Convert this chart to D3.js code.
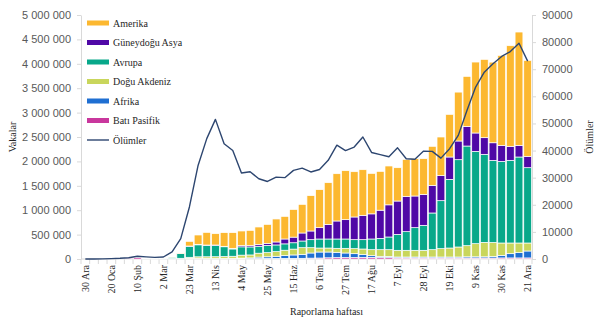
<!DOCTYPE html>
<html lang="tr">
<head>
<meta charset="utf-8">
<script src="https://cdn.jsdelivr.net/npm/d3@7"></script>
<style>
  html, body { margin: 0; padding: 0; background: #fff; overflow: hidden; }
  svg { display: block; }
  .tick text { fill: #595959; font-size: 11px; font-family: "Liberation Sans", Arial, sans-serif; }
  .tick line, .domain { stroke: #d9d9d9; }
  .serif { font-family: "Liberation Serif", "Times New Roman", serif; font-size: 10px; fill: #262626; }
</style>
</head>
<body>
<svg width="605" height="325"></svg>
<script>
// haftalık rapor tarihleri (2019-12-30 .. 2020-12-21)
const weeks = ['30 Ara','6 Oca','13 Oca','20 Oca','27 Oca','3 Şub','10 Şub','17 Şub','24 Şub','2 Mar',
  '9 Mar','16 Mar','23 Mar','30 Mar','6 Nis','13 Nis','20 Nis','27 Nis','4 May','11 May',
  '18 May','25 May','1 Haz','8 Haz','15 Haz','22 Haz','29 Haz','6 Tem','13 Tem','20 Tem',
  '27 Tem','3 Ağu','10 Ağu','17 Ağu','24 Ağu','31 Ağu','7 Eyl','14 Eyl','21 Eyl','28 Eyl',
  '5 Eki','12 Eki','19 Eki','26 Eki','2 Kas','9 Kas','16 Kas','23 Kas','30 Kas','7 Ara',
  '14 Ara','21 Ara'];

// weekly cases by region, in thousands
const batiPasifik = [0, 0.1, 0.5, 3, 10, 20, 28, 14, 3, 6, 5, 6, 10, 12, 10, 8, 7, 6, 7, 8,
  9, 10, 11, 13, 13, 14, 18, 20, 25, 30, 30, 32, 34, 33, 29, 28, 21, 21, 20, 20,
  20, 20, 20, 20, 20, 20, 20, 20, 22, 22, 22, 22];
const afrika = [0, 0, 0, 0, 0, 0, 0, 0, 0, 0, 0.2, 1, 3, 5, 6, 7, 8, 9, 12, 15,
  30, 35, 45, 58, 70, 82, 105, 123, 118, 107, 93, 77, 55, 35, 26, 26, 20, 20, 21, 21,
  21, 21, 21, 21, 25, 25, 25, 33, 53, 87, 108, 142];
const doguAkdeniz = [0, 0, 0, 0, 0, 0, 0, 0.1, 1, 3, 6, 8, 22, 28, 30, 32, 36, 41, 60, 60,
  80, 85, 95, 109, 120, 136, 109, 82, 82, 82, 96, 103, 116, 123, 136, 137, 137, 137, 137, 137,
  150, 171, 184, 205, 228, 269, 296, 286, 253, 219, 198, 164];
const avrupa = [0, 0, 0, 0, 0.1, 0.1, 0.1, 0.2, 1.5, 6, 27, 100, 225, 246, 232, 228, 200, 150, 170, 164,
  143, 150, 137, 130, 130, 137, 164, 185, 185, 191, 191, 184, 191, 219, 232, 260, 327, 382, 464, 512,
  752, 983, 1407, 1789, 2042, 1892, 1804, 1681, 1673, 1694, 1762, 1543];
const guneydoguAsya = [0, 0, 0, 0, 0, 0, 0, 0, 0, 0.1, 0.2, 0.5, 6, 10, 8, 12, 9, 13, 25, 27,
  34, 41, 61, 100, 115, 164, 178, 232, 300, 369, 396, 465, 499, 515, 577, 659, 683, 724, 649, 635,
  566, 513, 458, 383, 403, 376, 341, 362, 328, 287, 239, 233];
const amerika = [0, 0, 0, 0, 0, 0, 0, 0, 0.1, 0.3, 2, 8, 96, 191, 260, 232, 280, 321, 300, 313,
  360, 389, 471, 464, 567, 587, 724, 779, 854, 969, 1004, 928, 935, 830, 796, 796, 683, 758, 765, 731,
  800, 792, 874, 1002, 1025, 1454, 1605, 1652, 1844, 2062, 2322, 1966];

// weekly deaths (right axis)
const olumler = [0, 10, 50, 150, 250, 450, 1000, 800, 600, 740, 2600, 7500, 19200, 34500, 44400, 51500, 42500, 40000, 31700, 32200,
  29600, 28600, 30200, 30000, 32700, 33500, 32100, 33000, 36400, 42000, 40000, 41300, 45000, 39300, 38500, 37700, 41000, 37000, 36800, 39800,
  39700, 37200, 40700, 45600, 54800, 63400, 68900, 72000, 74700, 76500, 79600, 73000];

const caseTicks = [0, 500000, 1000000, 1500000, 2000000, 2500000, 3000000, 3500000, 4000000, 4500000, 5000000];
const deathTicks = [0, 10000, 20000, 30000, 40000, 50000, 60000, 70000, 80000, 90000];

const series = [
  { key: 'batiPasifik', name: 'Batı Pasifik', color: '#c9379d', values: batiPasifik },
  { key: 'afrika', name: 'Afrika', color: '#1f6fd2', values: afrika },
  { key: 'doguAkdeniz', name: 'Doğu Akdeniz', color: '#c9d65c', values: doguAkdeniz },
  { key: 'avrupa', name: 'Avrupa', color: '#08a88a', values: avrupa },
  { key: 'guneydoguAsya', name: 'Güneydoğu Asya', color: '#4f08a6', values: guneydoguAsya },
  { key: 'amerika', name: 'Amerika', color: '#fcb830', values: amerika }
];
const lineColor = '#2d4670';

const table = weeks.map((w, i) => {
  const row = { week: w };
  series.forEach(s => { row[s.key] = s.values[i] * 1000; });
  return row;
});

const margin = { left: 81, right: 73, top: 15, bottom: 66 };
const svg = d3.select('svg');
const width = +svg.attr('width');
const height = +svg.attr('height');
const innerWidth = width - margin.left - margin.right;
const innerHeight = height - margin.top - margin.bottom;

const g = svg.append('g').attr('transform', `translate(${margin.left},${margin.top})`);

const x = d3.scaleBand().domain(weeks).range([0, innerWidth]).paddingInner(0.1).paddingOuter(0.05);
const y = d3.scaleLinear().domain([0, 5000000]).range([innerHeight, 0]);
const y2 = d3.scaleLinear().domain([0, 90000]).range([innerHeight, 0]);

const spaced = d => d3.format(',')(d).replace(/,/g, ' ');

// axes
g.append('g')
  .call(d3.axisLeft(y).tickValues(caseTicks).tickFormat(spaced).tickSize(4).tickSizeOuter(0).tickPadding(6));
g.append('g')
  .attr('transform', `translate(${innerWidth},0)`)
  .call(d3.axisRight(y2).tickValues(deathTicks).tickFormat(d3.format('d')).tickSize(4).tickSizeOuter(0).tickPadding(6));

// bottom axis: line, week boundary ticks and every third label
const xAxisG = g.append('g').attr('transform', `translate(0,${innerHeight})`);
xAxisG.append('line').attr('x1', 0).attr('x2', innerWidth).attr('stroke', '#d9d9d9');
const gap = (x.step() - x.bandwidth()) / 2;
xAxisG.selectAll('.wk').data(weeks.concat([null])).enter().append('line')
  .attr('class', 'wk')
  .attr('x1', d => d === null ? innerWidth : x(d) - gap)
  .attr('x2', d => d === null ? innerWidth : x(d) - gap)
  .attr('y1', 0).attr('y2', 5)
  .attr('stroke', '#d9d9d9');
xAxisG.selectAll('.lbl').data(weeks.filter((d, i) => i % 3 === 0)).enter().append('text')
  .attr('class', 'serif lbl')
  .attr('transform', d => `translate(${x(d) + x.bandwidth() / 2},6) rotate(-90)`)
  .attr('text-anchor', 'end')
  .attr('dy', '0.35em')
  .text(d => d);

// stacked bars
const stacked = d3.stack().keys(series.map(s => s.key))(table);
g.selectAll('.layer').data(stacked).enter().append('g')
  .attr('class', 'layer')
  .attr('fill', (d, i) => series[i].color)
  .selectAll('rect').data(d => d).enter().append('rect')
    .attr('x', d => x(d.data.week))
    .attr('y', d => y(d[1]))
    .attr('width', x.bandwidth())
    .attr('height', d => y(d[0]) - y(d[1]))
    .attr('stroke', '#fff')
    .attr('stroke-width', 0.7);

// deaths line
const line = d3.line()
  .x((d, i) => x(weeks[i]) + x.bandwidth() / 2)
  .y(d => y2(d));
g.append('path')
  .datum(olumler)
  .attr('d', line)
  .attr('fill', 'none')
  .attr('stroke', lineColor)
  .attr('stroke-width', 1.4)
  .attr('stroke-linejoin', 'round');

// axis titles
svg.append('text').attr('class', 'serif')
  .attr('transform', `translate(16,${margin.top + innerHeight / 2}) rotate(-90)`)
  .attr('text-anchor', 'middle')
  .text('Vakalar');
svg.append('text').attr('class', 'serif')
  .attr('transform', `translate(593,${margin.top + innerHeight / 2}) rotate(-90)`)
  .attr('text-anchor', 'middle')
  .text('Ölümler');
svg.append('text').attr('class', 'serif')
  .attr('x', margin.left + innerWidth / 2 + 20)
  .attr('y', 315)
  .attr('text-anchor', 'middle')
  .text('Raporlama haftası');

// legend, top-left inside the plot
const legendItems = series.slice().reverse().map(s => ({ name: s.name, color: s.color, kind: 'bar' }))
  .concat([{ name: 'Ölümler', color: lineColor, kind: 'line' }]);
const legend = svg.append('g').attr('transform', 'translate(87,23)');
const item = legend.selectAll('g').data(legendItems).enter().append('g')
  .attr('transform', (d, i) => `translate(0,${i * 19.5})`);
item.filter(d => d.kind === 'bar').append('rect')
  .attr('x', 0).attr('y', -2.5).attr('width', 22).attr('height', 5)
  .attr('fill', d => d.color);
item.filter(d => d.kind === 'line').append('line')
  .attr('x1', 0).attr('x2', 22).attr('y1', 0).attr('y2', 0)
  .attr('stroke', d => d.color).attr('stroke-width', 1.4);
item.append('text').attr('class', 'serif')
  .attr('x', 26).attr('y', 3.5)
  .text(d => d.name);
</script>
</body>
</html>
